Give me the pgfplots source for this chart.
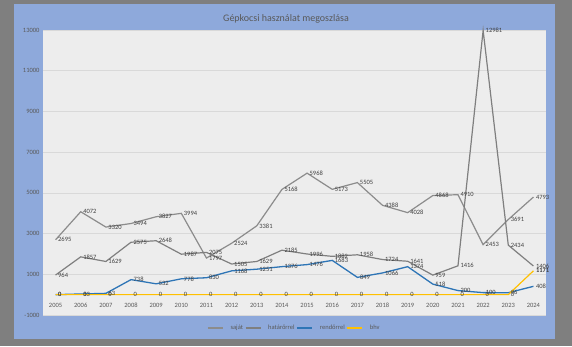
\documentclass[border=0pt]{standalone}
\usepackage{fontspec}
\setmainfont{Carlito}
\usepackage{pgfplots}
\pgfplotsset{compat=1.18}
\definecolor{outergray}{HTML}{7F7F7F}
\definecolor{frameblue}{HTML}{8EA9DB}
\definecolor{plotbg}{HTML}{EDEDED}
\definecolor{gridc}{HTML}{D9D9D9}
\definecolor{txt}{HTML}{595959}
\definecolor{dlab}{HTML}{404040}
\definecolor{lgray}{HTML}{8C8C8C}
\definecolor{dgray}{HTML}{7F7F7F}
\definecolor{lblue}{HTML}{2E75B6}
\definecolor{orng}{HTML}{FFC000}
\pgfplotstableread{
year sajat hatar rendor
2005 2695 964 0
2006 4072 1857 33
2007 3320 1629 63
2008 3494 2575 738
2009 3827 2648 532
2010 3994 1987 778
2011 1797 2075 830
2012 2524 1505 1168
2013 3381 1629 1251
2014 5168 2185 1376
2015 5968 1996 1476
2016 5173 1882 1683
2017 5505 1958 849
2018 4388 1724 1066
2019 4028 1641 1374
2020 4868 959 518
2021 4910 1416 200
2022 2453 12981 100
2023 3691 2434 96
2024 4793 1406 408
}\mydata
\pgfplotstableread{
year bhv label
2005 0 0
2006 0 0
2007 0 0
2008 0 0
2009 0 0
2010 0 0
2011 0 0
2012 0 0
2013 0 0
2014 0 0
2015 0 0
2016 0 0
2017 0 0
2018 0 0
2019 0 0
2020 0 0
2021 0 0
2022 0 0
2023 0 0
2024 1171 \textbf{1171}
}\bhvdata
\begin{document}
\begin{tikzpicture}
\fill[outergray] (0pt,0pt) rectangle (572pt,346pt);
\fill[frameblue] (14pt,7pt) rectangle (555pt,342pt);
\node[text=txt, font=\fontsize{10}{12}\selectfont] at (286pt,327pt) {Gépkocsi használat megoszlása};
\begin{axis}[
  at={(43pt,31pt)}, anchor=south west,
  width=503pt, height=285pt, scale only axis,
  xmin=2004.5, xmax=2024.5, ymin=-1000, ymax=13000,
  xtick={2005,2006,...,2024},
  ytick={-1000,1000,...,13000},
  axis background/.style={fill=plotbg},
  axis line style={draw=none},
  tick style={draw=none},
  ymajorgrids, grid style={gridc, line width=0.6pt},
  tick label style={font=\fontsize{6.5}{7}\selectfont, text=txt},
  xticklabel style={anchor=center, yshift=10pt},
  /pgf/number format/assume math mode=true,
  /pgf/number format/1000 sep={},
  scaled y ticks=false,
  clip=false,
  legend style={at={(0.5,0)}, anchor=center, yshift=-13pt, draw=none, fill=none,
    font=\fontsize{6.5}{7}\selectfont, text=txt,
    /tikz/every even column/.append style={column sep=0pt},
    /tikz/every odd column/.append style={column sep=5pt}},
  legend columns=4,
  legend image code/.code={\draw[#1] (0pt,0pt) -- (15pt,0pt);},
  every node near coord/.append style={anchor=west, font=\fontsize{6.5}{7}\selectfont, text=dlab, inner sep=2pt},
]
\addplot[lgray, line width=1.2pt, nodes near coords] table[x=year, y=sajat] {\mydata};
\addlegendentry{saját}
\addplot[dgray, line width=1.2pt, nodes near coords] table[x=year, y=hatar] {\mydata};
\addlegendentry{határőrrel}
\addplot[lblue, line width=1.3pt, nodes near coords] table[x=year, y=rendor] {\mydata};
\addlegendentry{rendőrrel}
\addplot[orng, line width=1.2pt, nodes near coords, point meta=explicit symbolic] table[x=year, y=bhv, meta=label] {\bhvdata};
\addlegendentry{bhv}
\end{axis}
\end{tikzpicture}
\end{document}
